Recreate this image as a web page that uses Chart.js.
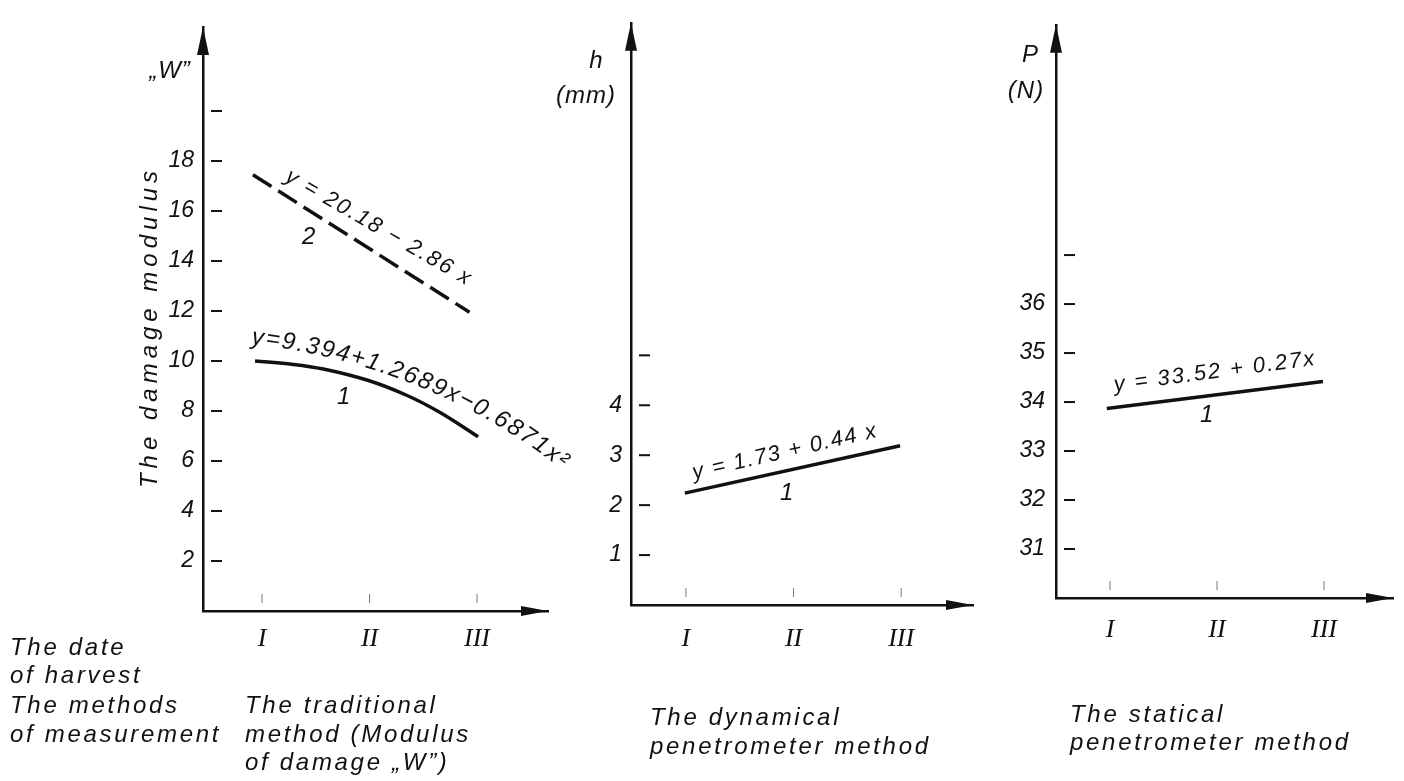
<!DOCTYPE html>
<html>
<head>
<meta charset="utf-8">
<script src="https://cdn.jsdelivr.net/npm/chart.js@4.4.1/dist/chart.umd.min.js"></script>
<style>
  html, body { margin: 0; padding: 0; background: #fff; }
  #wrap { position: relative; width: 1404px; height: 781px; overflow: hidden; }
  canvas { position: absolute; left: 0; top: 0; }
</style>
</head>
<body>
<div id="wrap">
  <canvas id="c1" width="1404" height="781"></canvas>
  <canvas id="c2" width="1404" height="781"></canvas>
  <canvas id="c3" width="1404" height="781"></canvas>
</div>
<script>
// dates of harvest (x axis of every panel)
const DATES = ['I', 'II', 'III']
const DATE_POS = [1, 2, 3]

// traditional method, damage modulus "W"
const W_TICKS = [2, 4, 6, 8, 10, 12, 14, 16, 18, 20]
const W_LABELS = ['2', '4', '6', '8', '10', '12', '14', '16', '18', '']
const W1_X = [0.935, 1.26, 1.57, 1.99, 2.35, 2.66, 3.01]
const W1_Y = [10.0, 9.88, 9.68, 9.22, 8.62, 7.93, 6.97]
const W2_X = [0.915, 2.93]
const W2_Y = [17.45, 11.95]

// dynamical penetrometer, h (mm)
const H_TICKS = [1, 2, 3, 4, 5]
const H_LABELS = ['1', '2', '3', '4', '']
const H1_X = [0.99, 2.99]
const H1_Y = [2.24, 3.19]

// statical penetrometer, P (N)
const P_TICKS = [31, 32, 33, 34, 35, 36, 37]
const P_LABELS = ['31', '32', '33', '34', '35', '36', '']
const P1_X = [0.97, 2.99]
const P1_Y = [33.87, 34.42]

const INK = '#111'
const FONT = '"Liberation Sans", Arial, sans-serif'
const SERIF = '"Liberation Serif", "Times New Roman", serif'

const pts = (xs, ys) => xs.map((x, i) => ({x: x, y: ys[i]}))

function text(ctx, s, x, y, o) {
  ctx.save()
  ctx.translate(x, y)
  if (o.rot) ctx.rotate(o.rot * Math.PI / 180)
  ctx.font = 'italic ' + (o.size || 24) + 'px ' + FONT
  ctx.letterSpacing = (o.ls == null ? 2.7 : o.ls) + 'px'
  ctx.textAlign = o.align || 'left'
  ctx.textBaseline = 'middle'
  ctx.fillStyle = INK
  ctx.fillText(s, 0, 0)
  ctx.restore()
}

// writes a string along a gently bending path (angle goes a0 -> a1)
function arcText(ctx, s, x, y, o) {
  ctx.save()
  ctx.font = 'italic ' + (o.size || 22) + 'px ' + FONT
  ctx.letterSpacing = '0px'
  ctx.textBaseline = 'alphabetic'
  ctx.fillStyle = INK
  const chars = [...s]
  const w = chars.map(c => ctx.measureText(c).width + o.ls)
  const total = w.reduce((a, b) => a + b, 0)
  let run = 0
  chars.forEach((c, i) => {
    const a = (o.a0 + (o.a1 - o.a0) * (run + w[i] / 2) / total) * Math.PI / 180
    ctx.save()
    ctx.translate(x, y)
    ctx.rotate(a)
    ctx.fillText(c, 0, 0)
    ctx.restore()
    x += w[i] * Math.cos(a)
    y += w[i] * Math.sin(a)
    run += w[i]
  })
  ctx.restore()
}

function marksPlugin(notes) {
  return {
    id: 'marks',
    afterDraw(chart) {
      const ctx = chart.ctx
      const a = chart.chartArea
      const xs = chart.scales.x, ys = chart.scales.y
      ctx.save()
      ctx.fillStyle = INK
      ctx.strokeStyle = INK
      // y tick marks, inside the axis
      ctx.lineWidth = 2
      ys.ticks.forEach(t => {
        const y = ys.getPixelForValue(t.value)
        ctx.beginPath()
        ctx.moveTo(a.left + 8, y)
        ctx.lineTo(a.left + 19, y)
        ctx.stroke()
      })
      // faint x tick marks
      ctx.lineWidth = 1
      ctx.strokeStyle = '#777'
      xs.ticks.forEach(t => {
        const x = xs.getPixelForValue(t.value)
        ctx.beginPath()
        ctx.moveTo(x, a.bottom - 17)
        ctx.lineTo(x, a.bottom - 8)
        ctx.stroke()
      })
      // arrow heads
      ctx.beginPath()
      ctx.moveTo(a.left, a.top)
      ctx.lineTo(a.left - 6, a.top + 28)
      ctx.lineTo(a.left + 6, a.top + 28)
      ctx.closePath()
      ctx.fill()
      ctx.beginPath()
      ctx.moveTo(a.right, a.bottom)
      ctx.lineTo(a.right - 27, a.bottom - 5)
      ctx.lineTo(a.right - 27, a.bottom + 5)
      ctx.closePath()
      ctx.fill()
      ctx.restore()
      notes.forEach(n => n.arc ? arcText(ctx, n.t, n.x, n.y, n) : text(ctx, n.t, n.x, n.y, n))
    }
  }
}

function panel(id, area, xr, yr, yTicks, yLabels, pads, datasets, notes) {
  const X_H = 60, Y_W = 70
  new Chart(document.getElementById(id), {
    type: 'line',
    data: { datasets: datasets },
    options: {
      responsive: false,
      animation: false,
      layout: {
        padding: {
          left: area.left - Y_W,
          top: area.top,
          right: 1404 - area.right,
          bottom: 781 - area.bottom - X_H,
        },
      },
      plugins: { legend: { display: false }, tooltip: { enabled: false } },
      elements: { point: { radius: 0 } },
      scales: {
        x: {
          type: 'linear',
          min: xr[0],
          max: xr[1],
          grid: { display: false, drawTicks: false },
          border: { display: true, color: INK, width: 2.5 },
          afterBuildTicks: s => { s.ticks = DATE_POS.map(v => ({value: v})) },
          afterFit: s => { s.height = X_H },
          ticks: {
            autoSkip: false,
            maxRotation: 0,
            padding: pads[0],
            color: INK,
            font: { family: SERIF, size: 26, style: 'italic' },
            callback: (v, i) => DATES[i],
          },
        },
        y: {
          min: yr[0],
          max: yr[1],
          grid: { display: false, drawTicks: false },
          border: { display: true, color: INK, width: 2.5 },
          afterBuildTicks: s => { s.ticks = yTicks.map(v => ({value: v})) },
          afterFit: s => { s.width = Y_W },
          ticks: {
            autoSkip: false,
            padding: pads[1],
            color: INK,
            font: { family: FONT, size: 23, style: 'italic' },
            callback: (v, i) => yLabels[i],
          },
        },
      },
    },
    plugins: [marksPlugin(notes)],
  })
}

panel('c1', {left: 203, top: 27, right: 548, bottom: 611}, [0.451, 3.66], [0, 23.36],
  W_TICKS, W_LABELS, [13, 9],
  [
    { data: pts(W1_X, W1_Y), borderColor: INK, borderWidth: 3.5, tension: 0.4, fill: false },
    { data: pts(W2_X, W2_Y), borderColor: INK, borderWidth: 3.5, borderDash: [22, 8], fill: false },
  ],
  [
    { t: '„W”', x: 170, y: 71, align: 'center', ls: 1 },
    { t: 'The damage modulus', x: 150, y: 327, rot: -90, align: 'center', ls: 5 },
    { t: 'y = 20.18 − 2.86 x', x: 379, y: 228, rot: 30, align: 'center', size: 22, ls: 2 },
    { t: '2', x: 310, y: 237, align: 'center' },
    { t: 'y=9.394+1.2689x−0.6871x²', x: 251, y: 344, arc: true, a0: 6, a1: 38, size: 24, ls: 2 },
    { t: '1', x: 345, y: 397, align: 'center' },
    { t: 'The date', x: 10, y: 648 },
    { t: 'of harvest', x: 10, y: 676 },
    { t: 'The methods', x: 10, y: 706 },
    { t: 'of measurement', x: 10, y: 735 },
    { t: 'The traditional', x: 245, y: 706 },
    { t: 'method (Modulus', x: 245, y: 735 },
    { t: 'of damage „W”)', x: 245, y: 763 },
  ])

panel('c2', {left: 631, top: 22, right: 973, bottom: 605}, [0.49, 3.667], [0, 11.66],
  H_TICKS, H_LABELS, [19, 9],
  [
    { data: pts(H1_X, H1_Y), borderColor: INK, borderWidth: 3.5, fill: false },
  ],
  [
    { t: 'h', x: 596, y: 61, align: 'center', ls: 0 },
    { t: '(mm)', x: 586, y: 96, align: 'center', ls: 1 },
    { t: 'y = 1.73 + 0.44 x', x: 785, y: 452, rot: -13, align: 'center', size: 22, ls: 1.5 },
    { t: '1', x: 788, y: 493, align: 'center' },
    { t: 'The dynamical', x: 650, y: 718 },
    { t: 'penetrometer method', x: 650, y: 747 },
  ])

panel('c3', {left: 1056, top: 13, right: 1393, bottom: 598}, [0.495, 3.645], [30, 41.7],
  P_TICKS, P_LABELS, [17, 11],
  [
    { data: pts(P1_X, P1_Y), borderColor: INK, borderWidth: 3.5, fill: false },
  ],
  [
    { t: 'P', x: 1030, y: 55, align: 'center', ls: 0 },
    { t: '(N)', x: 1026, y: 91, align: 'center', ls: 1 },
    { t: 'y = 33.52 + 0.27x', x: 1215, y: 372, rot: -7.5, align: 'center', size: 22, ls: 2 },
    { t: '1', x: 1208, y: 415, align: 'center' },
    { t: 'The statical', x: 1070, y: 715 },
    { t: 'penetrometer method', x: 1070, y: 743 },
  ])
</script>
</body>
</html>
